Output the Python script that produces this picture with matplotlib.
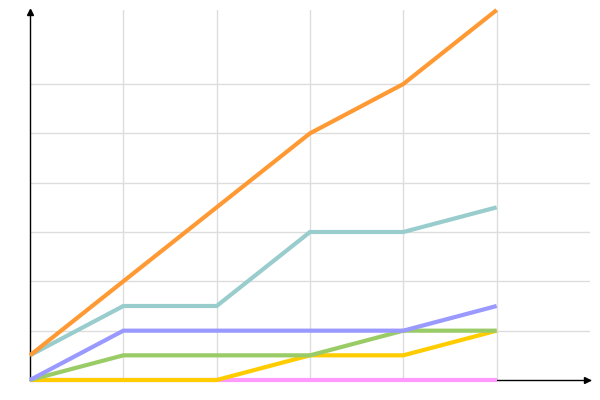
import matplotlib
matplotlib.use('Agg')
import matplotlib.pyplot as plt

# data (6 points per series)
x = [0, 1, 2, 3, 4, 5]
orange = [0.5, 2.0, 3.5, 5.0, 6.0, 7.5]
teal = [0.5, 1.5, 1.5, 3.0, 3.0, 3.5]
purple = [0, 1, 1, 1, 1, 1.5]
green = [0, 0.5, 0.5, 0.5, 1, 1]
yellow = [0, 0, 0, 0.5, 0.5, 1]
pink = [0, 0, 0, 0, 0, 0]

series = [
    (pink, '#ff99ff'),
    (yellow, '#ffcc00'),
    (green, '#99cc66'),
    (purple, '#9999ff'),
    (teal, '#99cccc'),
    (orange, '#ff9933'),
]

fig = plt.figure(figsize=(6, 4), dpi=100)
ax = fig.add_axes([30 / 600, 20 / 400, 560 / 600, 370 / 400])

for vals, col in series:
    ax.plot(x, vals, color=col, linewidth=3.0, solid_capstyle='butt',
            solid_joinstyle='miter', clip_on=False, zorder=3)

ax.set_xlim(0, 6)
ax.set_ylim(0, 7.5)
ax.set_xticks([1, 2, 3, 4, 5])
ax.set_yticks([1, 2, 3, 4, 5, 6])
ax.grid(True, color='#dddddd', linewidth=1.0, zorder=0)
ax.tick_params(length=0, labelbottom=False, labelleft=False)
for s in ax.spines.values():
    s.set_visible(False)

# axis lines with small arrow heads
ax.plot([0, 6], [0, 0], color='black', linewidth=1.0, clip_on=False, zorder=2)
ax.plot([0, 0], [0, 7.5], color='black', linewidth=1.0, clip_on=False, zorder=2)
ax.plot([5.97], [0], marker='>', color='black', markersize=4, clip_on=False, zorder=2)
ax.plot([0], [7.45], marker='^', color='black', markersize=4, clip_on=False, zorder=2)

fig.savefig('out.png', dpi=100)
